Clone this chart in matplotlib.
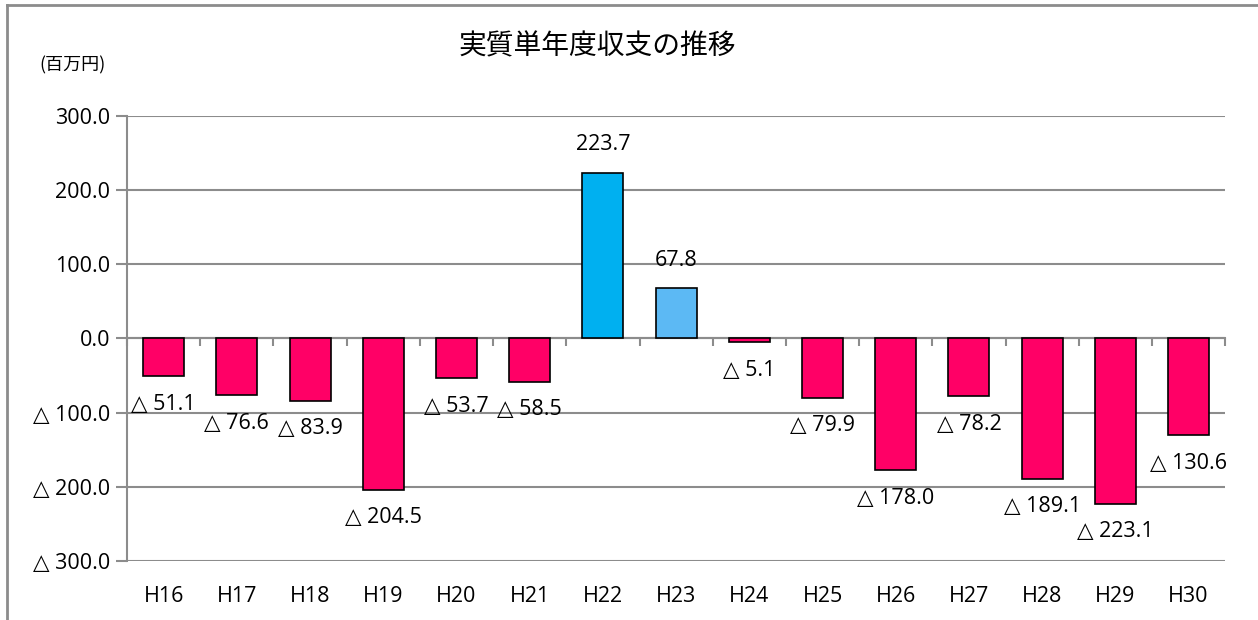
import matplotlib
matplotlib.use('Agg')
import matplotlib.pyplot as plt
import numpy as np

plt.rcParams['font.family'] = ['Open Sans', 'DejaVu Sans', 'Noto Sans CJK JP']

years = ['H16', 'H17', 'H18', 'H19', 'H20', 'H21', 'H22', 'H23',
         'H24', 'H25', 'H26', 'H27', 'H28', 'H29', 'H30']
values = [-51.1, -76.6, -83.9, -204.5, -53.7, -58.5, 223.7, 67.8,
          -5.1, -79.9, -178.0, -78.2, -189.1, -223.1, -130.6]
yticks = [300, 200, 100, 0, -100, -200, -300]

neg_col = '#FF0066'
pos_cols = {'H22': '#00B0F0', 'H23': '#5CB9F4'}
grid_col = '#8C8C8C'


def fmt(v):
    if v < 0:
        return '\u25b3 %.1f' % (-v)
    return '%.1f' % v


fig = plt.figure(figsize=(12.58, 6.2), dpi=100)
ax = fig.add_axes([0.101, 0.0952, 0.8729, 0.7177])

x = np.arange(len(years))
cols = [pos_cols.get(y, neg_col) if v >= 0 else neg_col for y, v in zip(years, values)]
ax.bar(x, values, width=0.56, color=cols, edgecolor='black', linewidth=1.2, zorder=3)

for xi, v in zip(x, values):
    off = 20 if v >= 0 else -20
    ax.annotate(fmt(v), (xi, v), xytext=(0, off), textcoords='offset points',
                ha='center', va='center', fontsize=15.5, zorder=4)

ax.set_xlim(-0.5, len(years) - 0.5)
ax.set_ylim(-300, 300)
ax.set_yticks(yticks)
ax.set_yticklabels([fmt(t) for t in yticks], fontsize=15.5)
ax.yaxis.grid(True, color=grid_col, linewidth=1.5, zorder=0)
ax.tick_params(axis='y', length=8, width=1.5, color=grid_col, pad=4)

# category axis sits on zero, labels pushed down below the plot
ax.spines['bottom'].set_position(('data', 0))
ax.spines['bottom'].set_color(grid_col)
ax.spines['bottom'].set_linewidth(1.5)
ax.set_xticks(x)
ax.set_xticklabels(years, fontsize=15.5)
ax.set_xticks(np.arange(len(years) + 1) - 0.5, minor=True)
ax.tick_params(axis='x', which='major', length=0, pad=178)
ax.tick_params(axis='x', which='minor', length=6, width=1.5, color=grid_col)

for s in ['top', 'right']:
    ax.spines[s].set_visible(False)
ax.spines['left'].set_color(grid_col)
ax.spines['left'].set_linewidth(1.5)

fig.text(0.4746, 0.925, '実質単年度収支の推移', ha='center', va='center',
         fontsize=20, family=['Noto Sans CJK JP', 'DejaVu Sans'])
fig.text(0.058, 0.895, '(百万円)', ha='center', va='center',
         fontsize=13, family=['Noto Sans CJK JP', 'DejaVu Sans'])

# chart area frame (top and left edges visible)
fig.add_artist(plt.Line2D([0.0056, 1.0], [0.992, 0.992], color=grid_col, linewidth=2))
fig.add_artist(plt.Line2D([0.0056, 0.0056], [0.0, 0.992], color=grid_col, linewidth=2))

fig.savefig('out.png', dpi=100)
